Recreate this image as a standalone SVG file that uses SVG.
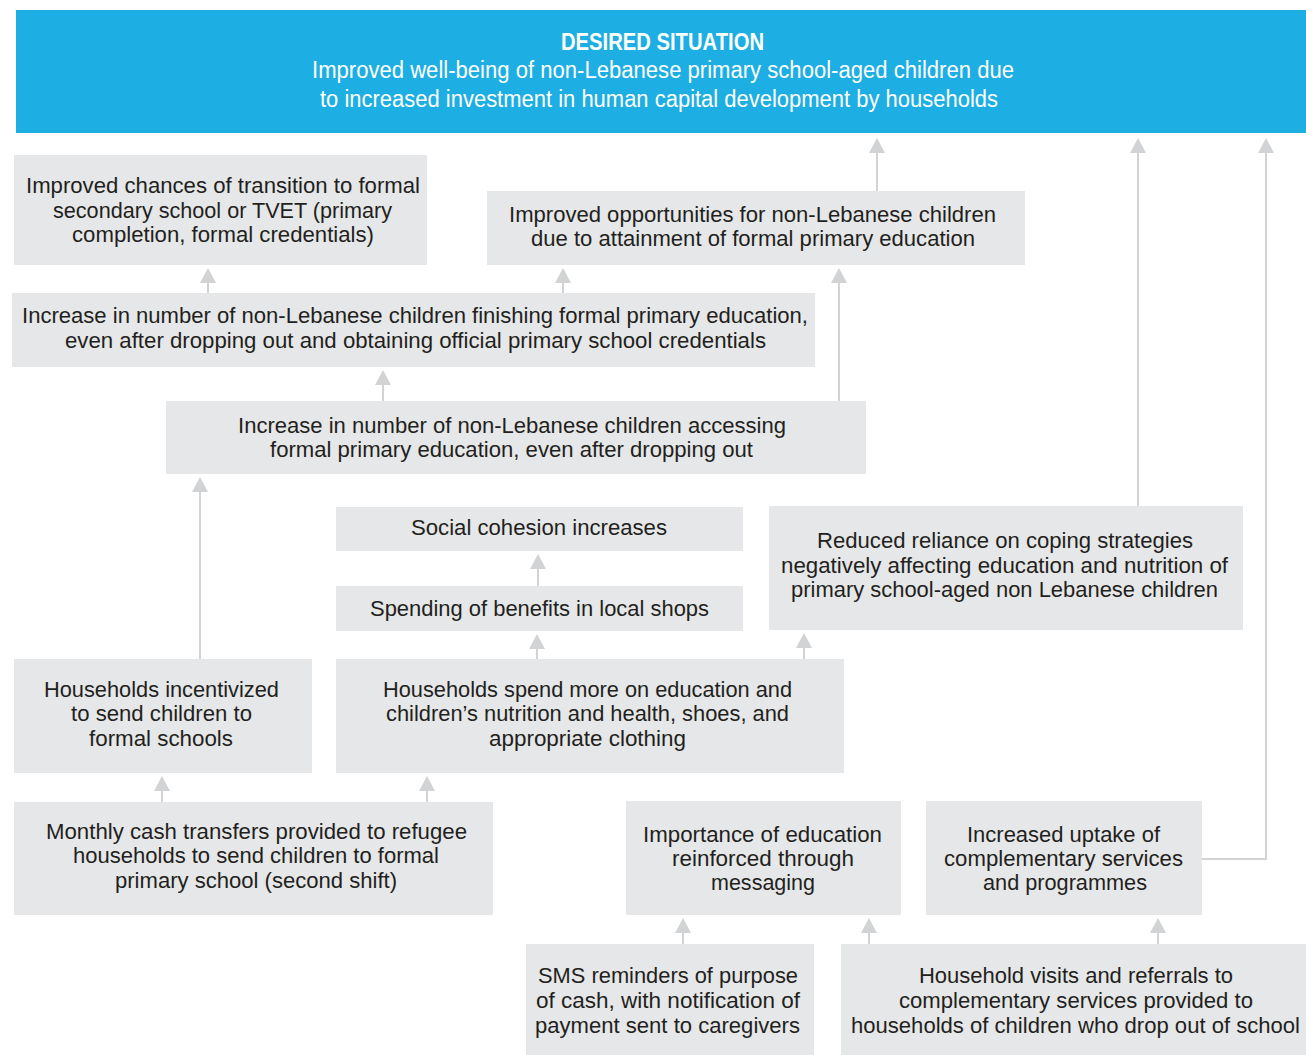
<svg xmlns="http://www.w3.org/2000/svg" width="1306" height="1055" viewBox="0 0 1306 1055">
<style>
.box{fill:#e6e7e8}
.t{font-family:"Liberation Sans Narrow","Liberation Sans",Arial,sans-serif;font-size:22px;fill:#231f20}
.h{font-family:"Liberation Sans Narrow","Liberation Sans",Arial,sans-serif;font-size:23px;fill:#ffffff}
.hb{font-weight:bold}
.c{fill:none;stroke:#d1d3d4;stroke-width:2;marker-end:url(#ah)}
</style>
<defs>
<marker id="ah" markerUnits="userSpaceOnUse" viewBox="0 0 15 16" markerWidth="15" markerHeight="16" refX="7" refY="8" orient="auto">
<path d="M0,0 L15,8 L0,16 Z" fill="#d1d3d4"/>
</marker>
</defs>
<rect width="1306" height="1055" fill="#ffffff"/>

<g id="connectors">
<path class="c" d="M208,293 V276"/>
<path class="c" d="M563,293 V276"/>
<path class="c" d="M383,401 V378"/>
<path class="c" d="M839,401 V276"/>
<path class="c" d="M877,191 V146"/>
<path class="c" d="M1138,506 V146"/>
<path class="c" d="M1202,859 H1266 V146"/>
<path class="c" d="M200,659 V485"/>
<path class="c" d="M538,586 V562"/>
<path class="c" d="M537,659 V642"/>
<path class="c" d="M804,659 V641"/>
<path class="c" d="M162,802 V784"/>
<path class="c" d="M427,802 V784"/>
<path class="c" d="M683,944 V926"/>
<path class="c" d="M869,944 V926"/>
<path class="c" d="M1158,944 V926"/>
</g>

<g id="desired">
<rect x="16" y="10" width="1290" height="123" fill="#1daee3"/>
<text class="h hb" x="561" y="50" textLength="203" lengthAdjust="spacingAndGlyphs">DESIRED SITUATION</text>
<text class="h" x="312" y="78" textLength="702" lengthAdjust="spacingAndGlyphs">Improved well-being of non-Lebanese primary school-aged children due</text>
<text class="h" x="320" y="107" textLength="678" lengthAdjust="spacingAndGlyphs">to increased investment in human capital development by households</text>
</g>

<g id="n1">
<rect class="box" x="14" y="155" width="413" height="110"/>
<text class="t" x="26" y="193" textLength="394" lengthAdjust="spacingAndGlyphs">Improved chances of transition to formal</text>
<text class="t" x="53" y="218" textLength="339" lengthAdjust="spacingAndGlyphs">secondary school or TVET (primary</text>
<text class="t" x="72" y="242" textLength="302" lengthAdjust="spacingAndGlyphs">completion, formal credentials)</text>
</g>

<g id="n2">
<rect class="box" x="487" y="191" width="538" height="74"/>
<text class="t" x="509" y="222" textLength="487" lengthAdjust="spacingAndGlyphs">Improved opportunities for non-Lebanese children</text>
<text class="t" x="531" y="246" textLength="444" lengthAdjust="spacingAndGlyphs">due to attainment of formal primary education</text>
</g>

<g id="n3">
<rect class="box" x="12" y="293" width="803" height="74"/>
<text class="t" x="22" y="323" textLength="786" lengthAdjust="spacingAndGlyphs">Increase in number of non-Lebanese children finishing formal primary education,</text>
<text class="t" x="65" y="348" textLength="701" lengthAdjust="spacingAndGlyphs">even after dropping out and obtaining official primary school credentials</text>
</g>

<g id="n4">
<rect class="box" x="166" y="401" width="700" height="73"/>
<text class="t" x="238" y="433" textLength="548" lengthAdjust="spacingAndGlyphs">Increase in number of non-Lebanese children accessing</text>
<text class="t" x="270" y="457" textLength="483" lengthAdjust="spacingAndGlyphs">formal primary education, even after dropping out</text>
</g>

<g id="n5">
<rect class="box" x="336" y="507" width="407" height="44"/>
<text class="t" x="411" y="535" textLength="256" lengthAdjust="spacingAndGlyphs">Social cohesion increases</text>
</g>

<g id="n6">
<rect class="box" x="336" y="586" width="407" height="45"/>
<text class="t" x="370" y="616" textLength="339" lengthAdjust="spacingAndGlyphs">Spending of benefits in local shops</text>
</g>

<g id="n7">
<rect class="box" x="769" y="506" width="474" height="124"/>
<text class="t" x="817" y="548" textLength="376" lengthAdjust="spacingAndGlyphs">Reduced reliance on coping strategies</text>
<text class="t" x="781" y="573" textLength="447" lengthAdjust="spacingAndGlyphs">negatively affecting education and nutrition of</text>
<text class="t" x="791" y="597" textLength="427" lengthAdjust="spacingAndGlyphs">primary school-aged non Lebanese children</text>
</g>

<g id="n8">
<rect class="box" x="14" y="659" width="298" height="114"/>
<text class="t" x="44" y="697" textLength="235" lengthAdjust="spacingAndGlyphs">Households incentivized</text>
<text class="t" x="71" y="721" textLength="181" lengthAdjust="spacingAndGlyphs">to send children to</text>
<text class="t" x="89" y="746" textLength="144" lengthAdjust="spacingAndGlyphs">formal schools</text>
</g>

<g id="n9">
<rect class="box" x="336" y="659" width="508" height="114"/>
<text class="t" x="383" y="697" textLength="409" lengthAdjust="spacingAndGlyphs">Households spend more on education and</text>
<text class="t" x="386" y="721" textLength="403" lengthAdjust="spacingAndGlyphs">children’s nutrition and health, shoes, and</text>
<text class="t" x="489" y="746" textLength="197" lengthAdjust="spacingAndGlyphs">appropriate clothing</text>
</g>

<g id="n10">
<rect class="box" x="14" y="802" width="479" height="113"/>
<text class="t" x="46" y="839" textLength="421" lengthAdjust="spacingAndGlyphs">Monthly cash transfers provided to refugee</text>
<text class="t" x="73" y="863" textLength="366" lengthAdjust="spacingAndGlyphs">households to send children to formal</text>
<text class="t" x="115" y="888" textLength="282" lengthAdjust="spacingAndGlyphs">primary school (second shift)</text>
</g>

<g id="n11">
<rect class="box" x="626" y="801" width="275" height="114"/>
<text class="t" x="643" y="842" textLength="239" lengthAdjust="spacingAndGlyphs">Importance of education</text>
<text class="t" x="672" y="866" textLength="182" lengthAdjust="spacingAndGlyphs">reinforced through</text>
<text class="t" x="711" y="890" textLength="104" lengthAdjust="spacingAndGlyphs">messaging</text>
</g>

<g id="n12">
<rect class="box" x="926" y="801" width="276" height="114"/>
<text class="t" x="967" y="842" textLength="193" lengthAdjust="spacingAndGlyphs">Increased uptake of</text>
<text class="t" x="944" y="866" textLength="239" lengthAdjust="spacingAndGlyphs">complementary services</text>
<text class="t" x="983" y="890" textLength="164" lengthAdjust="spacingAndGlyphs">and programmes</text>
</g>

<g id="n13">
<rect class="box" x="526" y="944" width="288" height="111"/>
<text class="t" x="538" y="983" textLength="260" lengthAdjust="spacingAndGlyphs">SMS reminders of purpose</text>
<text class="t" x="536" y="1008" textLength="264" lengthAdjust="spacingAndGlyphs">of cash, with notification of</text>
<text class="t" x="535" y="1033" textLength="265" lengthAdjust="spacingAndGlyphs">payment sent to caregivers</text>
</g>

<g id="n14">
<rect class="box" x="841" y="944" width="465" height="111"/>
<text class="t" x="919" y="983" textLength="314" lengthAdjust="spacingAndGlyphs">Household visits and referrals to</text>
<text class="t" x="899" y="1008" textLength="354" lengthAdjust="spacingAndGlyphs">complementary services provided to</text>
<text class="t" x="851" y="1033" textLength="449" lengthAdjust="spacingAndGlyphs">households of children who drop out of school</text>
</g>
</svg>
